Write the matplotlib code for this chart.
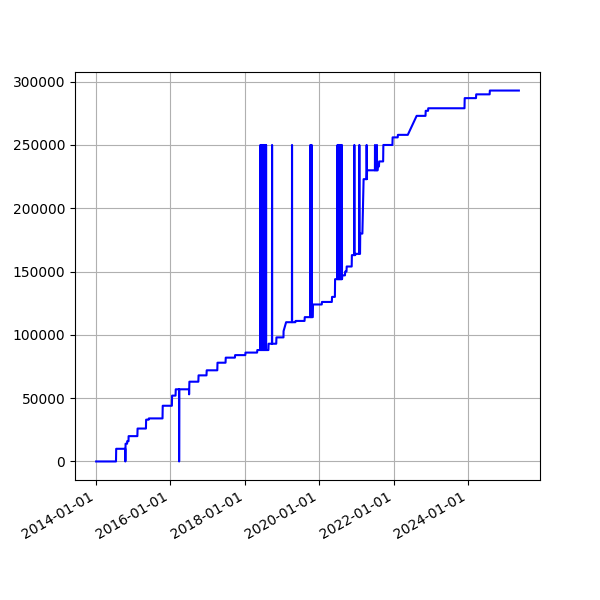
import numpy as np
import pandas as pd
import matplotlib
matplotlib.use('Agg')
import matplotlib.pyplot as plt
import matplotlib.dates as mdates

SPIKE = 250000

# vertices of the curve (date, value); steps are two vertices close together
dates = [
    "2014-01-01", "2014-07-15", "2014-07-17",
    "2014-10-14", "2014-10-15", "2014-10-17", "2014-11-01", "2014-11-02",
    "2014-11-15", "2014-11-16",
    "2015-02-10", "2015-02-12", "2015-05-05", "2015-05-07", "2015-06-01", "2015-06-03",
    "2015-10-15", "2015-10-17",
    "2016-01-15", "2016-01-17", "2016-02-20", "2016-02-22",
    "2016-03-25", "2016-03-26", "2016-03-28",
    "2016-07-01", "2016-07-02", "2016-07-05",
    "2016-10-01", "2016-10-03", "2016-12-20", "2016-12-22",
    "2017-04-05", "2017-04-07", "2017-06-25", "2017-06-27", "2017-09-25", "2017-09-27",
    "2018-01-05", "2018-01-07", "2018-05-01", "2018-05-03",
]
values = [
    0, 0, 10000,
    10000, 0, 14000, 14000, 16000,
    16000, 20000,
    20000, 26000, 26000, 33000, 33000, 34000,
    34000, 44000,
    44000, 52000, 52000, 57000,
    57000, 0, 57000,
    57000, 53000, 63000,
    63000, 68000, 68000, 72000,
    72000, 78000, 78000, 82000, 82000, 84000,
    84000, 86000, 86000, 88000,
]

# bundle of spikes mid 2018 (base 88000)
spikes_2018 = ["2018-06-01", "2018-06-08", "2018-06-15", "2018-06-22", "2018-06-29",
               "2018-07-06", "2018-07-13", "2018-07-20", "2018-07-27"]
# bundle of spikes mid 2020 (base 144000)
spikes_2020 = ["2020-06-28", "2020-07-04", "2020-07-10", "2020-07-16", "2020-07-22",
               "2020-07-28", "2020-08-03", "2020-08-09"]

dates_b = [
    "2018-08-20", "2018-08-22",
    "2018-09-24", "2018-09-25", "2018-09-26",
    "2018-11-05", "2018-11-07",
    "2019-01-15", "2019-01-16", "2019-02-10",
    "2019-04-08", "2019-04-09", "2019-04-10",
    "2019-05-12", "2019-05-14", "2019-08-10", "2019-08-12",
    "2019-10-05", "2019-10-06", "2019-10-07", "2019-10-18", "2019-10-19", "2019-10-20",
    "2019-10-30", "2019-11-01",
    "2020-01-26", "2020-01-28", "2020-05-04", "2020-05-06", "2020-06-03", "2020-06-05",
]
values_b = [
    88000, 93000,
    93000, SPIKE, 93000,
    93000, 98000,
    98000, 103000, 110000,
    110000, SPIKE, 110000,
    110000, 111000, 111000, 114000,
    114000, SPIKE, 114000, 114000, SPIKE, 114000,
    114000, 124000,
    124000, 126000, 126000, 130000, 130000, 144000,
]

dates_c = [
    "2020-08-12", "2020-08-14", "2020-09-10", "2020-09-12", "2020-09-25", "2020-09-27",
    "2020-11-15", "2020-11-17",
    "2020-12-10", "2020-12-11", "2020-12-12",
    "2020-12-20", "2020-12-22",
    "2021-01-28", "2021-01-29", "2021-01-30",
    "2021-02-05", "2021-02-07", "2021-02-28", "2021-03-12",
    "2021-04-10", "2021-04-11", "2021-04-13", "2021-04-15",
    "2021-07-01", "2021-07-02", "2021-07-03",
    "2021-07-20", "2021-07-21", "2021-07-22",
    "2021-07-28", "2021-07-30", "2021-08-10", "2021-08-12",
    "2021-09-20", "2021-09-22", "2021-12-20", "2021-12-22", "2022-02-10", "2022-02-12",
    "2022-05-20", "2022-08-15", "2022-11-10", "2022-11-12", "2022-12-05", "2022-12-07",
    "2023-11-28", "2023-11-30", "2024-03-20", "2024-03-22", "2024-08-01", "2024-08-03",
    "2025-05-15",
]
values_c = [
    144000, 147000, 147000, 150000, 150000, 154000,
    154000, 163000,
    163000, SPIKE, 163000,
    163000, 164000,
    164000, SPIKE, 164000,
    164000, 180000, 180000, 223000,
    223000, SPIKE, 223000, 230000,
    230000, SPIKE, 230000,
    230000, SPIKE, 230000,
    230000, 233000, 233000, 237000,
    237000, 250000, 250000, 256000, 256000, 258000,
    258000, 273000, 273000, 277000, 277000, 279000,
    279000, 287000, 287000, 290000, 290000, 293000,
    293000,
]

# assemble all vertices
x = list(dates)
y = list(values)
for d in spikes_2018:
    t = pd.Timestamp(d)
    x += [t, t + pd.Timedelta(days=1), t + pd.Timedelta(days=2)]
    y += [88000, SPIKE, 88000]
x += dates_b
y += values_b
for d in spikes_2020:
    t = pd.Timestamp(d)
    x += [t, t + pd.Timedelta(days=1), t + pd.Timedelta(days=2)]
    y += [144000, SPIKE, 144000]
x += dates_c
y += values_c

x = pd.to_datetime(pd.Series(x))
y = np.array(y)

fig, ax = plt.subplots(figsize=(6, 6), dpi=100)
ax.plot(x, y, color='blue')
ax.grid(True)
ax.xaxis.set_major_locator(mdates.YearLocator(2))
ax.xaxis.set_major_formatter(mdates.DateFormatter('%Y-%m-%d'))
fig.autofmt_xdate()

plt.savefig('out.png')
